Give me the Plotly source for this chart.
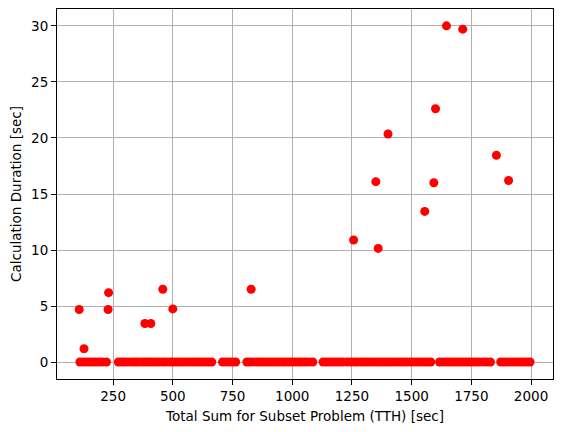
import plotly.graph_objects as go

# Runs that took a noticeable time (x = total sum, y = duration in seconds)
slow_tth = [108, 128, 229, 231, 383, 408, 458, 500, 828,
            1257, 1350, 1360, 1401, 1555, 1593, 1600, 1646, 1714, 1855, 1906]
slow_dur = [4.7, 1.2, 4.7, 6.2, 3.45, 3.45, 6.5, 4.75, 6.5,
            10.9, 16.1, 10.15, 20.35, 13.45, 16.0, 22.6, 30.0, 29.7, 18.45, 16.2]

# Runs that finished almost instantly
fast_tth = [111, 124, 138, 150, 163, 177, 190, 204, 222,
            272, 285, 299, 311, 326, 340, 352, 367, 380, 393, 405, 418, 431, 445,
            460, 473, 488, 500, 514, 528, 541, 555, 570, 583, 597, 610, 624, 637, 650, 663,
            708, 722, 735, 749, 763,
            810, 823, 837, 851, 864, 878, 891, 905, 918, 932, 946, 960, 973, 987,
            1000, 1014, 1028, 1041, 1055, 1070, 1086,
            1129, 1143, 1157, 1170, 1184, 1198, 1212, 1230,
            1245, 1260, 1273, 1287, 1300, 1314, 1328, 1342, 1356, 1370, 1384, 1398,
            1411, 1425, 1440, 1454, 1468, 1482, 1497, 1511, 1525, 1539, 1553, 1566, 1580,
            1617, 1631, 1645, 1659, 1672, 1686, 1700, 1714, 1728, 1742, 1756, 1770,
            1784, 1800, 1815, 1830,
            1873, 1887, 1900, 1914, 1928, 1942, 1956, 1970, 1984, 1996]
fast_dur = [0.02] * len(fast_tth)

tth = fast_tth + slow_tth
dur = fast_dur + slow_dur

FONT = dict(family='DejaVu Sans', size=13.5, color='black')
GRID = '#b0b0b0'

fig = go.Figure()
fig.add_trace(go.Scatter(x=tth, y=dur, mode='markers',
                         marker=dict(color='#ff0000', size=9, line=dict(width=0)),
                         showlegend=False))

# the page body has an 8px margin, so the figure is 16px smaller than the window
fig.update_layout(width=546, height=416, margin=dict(l=49, r=1, t=1, b=45, autoexpand=False),
                  plot_bgcolor='white', paper_bgcolor='white', font=FONT)
fig.update_xaxes(range=[15, 2092], tick0=0, dtick=250, showgrid=True, gridcolor=GRID, gridwidth=1.1,
                 showline=True, linecolor='black', linewidth=1.1, mirror=True, automargin=False,
                 ticks='outside', ticklen=5, tickwidth=1.1, tickcolor='black', zeroline=False,
                 title=dict(text='Total Sum for Subset Problem (TTH) [sec]', font=FONT, standoff=9))
fig.update_yaxes(range=[-1.5, 31.5], tick0=0, dtick=5, showgrid=True, gridcolor=GRID, gridwidth=1.1,
                 showline=True, linecolor='black', linewidth=1.1, mirror=True, automargin=False,
                 ticks='outside', ticklen=5, tickwidth=1.1, tickcolor='black', zeroline=False,
                 title=dict(text='Calculation Duration [sec]', font=FONT, standoff=9))

fig.write_html("out.html", config={'displayModeBar': False})
